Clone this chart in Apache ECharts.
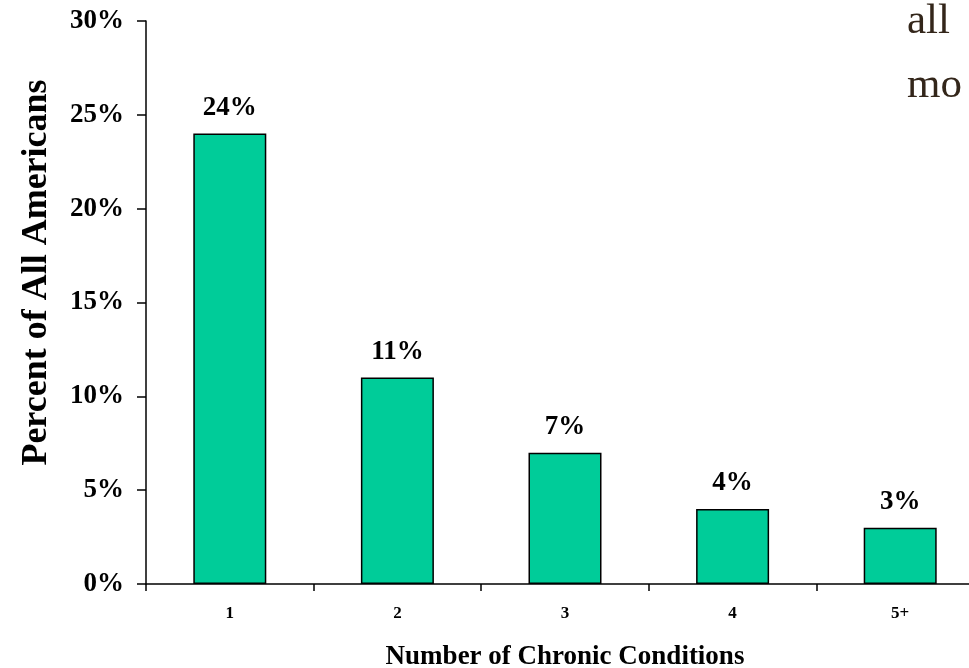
<!DOCTYPE html>
<html>
<head>
<meta charset="utf-8">
<script src="https://cdn.jsdelivr.net/npm/echarts@6/dist/echarts.min.js"></script>
<style>html,body{margin:0;padding:0;background:#fff;}#c{width:969px;height:668px;}</style>
</head>
<body>
<div id="c"></div>
<script>
const categories = ['1', '2', '3', '4', '5+'];
const values = [24, 11, 7, 4, 3];
const yTicks = [0, 5, 10, 15, 20, 25, 30];

const chart = echarts.init(document.getElementById('c'), null, {renderer: 'canvas'});
const F = '"Liberation Serif", "Times New Roman", serif';
chart.setOption({
  animation: false,
  backgroundColor: '#fff',
  grid: {left: 146, right: -15, top: 21, bottom: 84, containLabel: false, outerBoundsMode: 'none'},
  xAxis: {
    type: 'category',
    data: categories,
    name: 'Number of Chronic Conditions',
    nameLocation: 'middle',
    nameGap: 60,
    nameTextStyle: {fontFamily: F, fontWeight: 'bold', fontSize: 27, color: '#000'},
    axisLine: {lineStyle: {color: '#000', width: 1.5}},
    axisTick: {show: true, length: 7, lineStyle: {color: '#000', width: 1.5}},
    axisLabel: {fontFamily: F, fontWeight: 'bold', fontSize: 17, color: '#000', margin: 21}
  },
  yAxis: {
    type: 'value',
    min: yTicks[0],
    max: yTicks[yTicks.length - 1],
    interval: 5,
    name: 'Percent of All Americans',
    nameLocation: 'middle',
    nameRotate: 90,
    nameGap: 91,
    nameTextStyle: {fontFamily: F, fontWeight: 'bold', fontSize: 36, color: '#000', padding: [0, 0, 0, 60]},
    axisLine: {show: true, lineStyle: {color: '#000', width: 1.5}},
    axisTick: {show: true, length: 9, lineStyle: {color: '#000', width: 1.5}},
    splitLine: {show: false},
    axisLabel: {fontFamily: F, fontWeight: 'bold', fontSize: 27, color: '#000', margin: 22, formatter: v => v + '%'}
  },
  series: [{
    type: 'bar',
    data: values,
    barWidth: 73,
    itemStyle: {color: '#00CC99', borderColor: '#000', borderWidth: 1.5},
    label: {show: true, position: 'top', distance: 12, fontFamily: F, fontWeight: 'bold', fontSize: 27, color: '#000', formatter: p => p.value + '%'}
  }],
  graphic: [
    {type: 'text', left: 907, top: 0, style: {text: 'all', font: '43px "Liberation Serif", serif', fill: '#33261a'}},
    {type: 'text', left: 907, top: 64, style: {text: 'mo', font: '43px "Liberation Serif", serif', fill: '#33261a'}}
  ]
});
</script>
</body>
</html>
